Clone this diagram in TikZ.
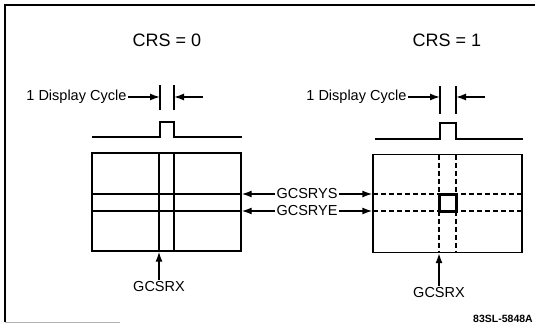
\documentclass[tikz,border=0pt]{standalone}
\usepackage{fontspec}
\setmainfont{Liberation Sans}
\usetikzlibrary{arrows.meta}
\tikzset{
  lbl/.style={font=\fontsize{14.5}{17}\selectfont, inner sep=1pt},
  ttl/.style={font=\fontsize{18}{21}\selectfont, inner sep=1pt},
  scrn/.style={draw, line width=1.4pt, minimum width=149pt, minimum height=98pt, inner sep=0pt},
  ptr/.style={-{Latex[length=10pt,width=7pt]}, line width=1.4pt},
  griddash/.style={line width=1.2pt, dash pattern=on 5pt off 3pt}
}

\begin{document}
\begin{tikzpicture}[x=1pt, y=-1pt, line width=1.3pt]
  \useasboundingbox (0,0) rectangle (535,324);
  % frame
  \draw (5,322) -- (5,5) -- (535,5);
  \draw[black!30, line width=0.8pt] (5,322) -- (120,322);

  % CRS = 0
  \node[ttl] (crs0) at (167,40) {CRS = 0};
  \node[lbl, anchor=east] (cyc0) at (128,97) {1 Display Cycle};
  \draw (160,85) -- (160,110);
  \draw (174,85) -- (174,110);
  \coordinate (tk0l) at (160,97);
  \coordinate (tk0r) at (174,97);
  \coordinate (in0) at (203,97);
  \draw[ptr] (cyc0.east) -- (tk0l);
  \draw[ptr] (in0) -- (tk0r);
  \draw (92,137) -| (160,122) -| (174,137) -- (242,137);
  \node[scrn] (scr0) at (166.5,202) {};
  \foreach \x in {159,174} \draw (\x,153) -- (\x,251);
  \foreach \y in {194,211} \draw (92,\y) -- (241,\y);
  \node[lbl] (rx0) at (159,287) {GCSRX};
  \draw[ptr] (rx0.north) -- (rx0.north |- scr0.south);

  % CRS = 1
  \node[ttl] (crs1) at (447,40) {CRS = 1};
  \node[lbl, anchor=east] (cyc1) at (408,97) {1 Display Cycle};
  \draw (440,86) -- (440,114);
  \draw (456,86) -- (456,114);
  \coordinate (tk1l) at (440,97);
  \coordinate (tk1r) at (456,97);
  \coordinate (in1) at (485,97);
  \draw[ptr] (cyc1.east) -- (tk1l);
  \draw[ptr] (in1) -- (tk1r);
  \draw (375,139) -| (440,123) -| (456,139) -- (523,139);
  \node[scrn] (scr1) at (447.5,203.5) {};
  \foreach \x in {439,456} \draw[griddash] (\x,154.5) -- (\x,252.5);
  \foreach \y in {194,211} \draw[griddash] (373,\y) -- (522,\y);
  \draw[line width=3pt] (439,194) rectangle (456,211);
  \node[lbl] (rx1) at (439,293) {GCSRX};
  \draw[ptr] (rx1.north) -- (rx1.north |- scr1.south);

  % row pointers
  \node[lbl] (ys) at (307,194) {GCSRYS};
  \node[lbl] (ye) at (307,211) {GCSRYE};
  \draw[ptr] (ys.west) -- (scr0.east |- ys);
  \draw[ptr] (ye.west) -- (scr0.east |- ye);
  \draw[ptr] (ys.east) -- (scr1.west |- ys);
  \draw[ptr] (ye.east) -- (scr1.west |- ye);

  \node[font=\fontsize{10.5}{12}\selectfont\bfseries] (tag) at (503,319) {83SL-5848A};
\end{tikzpicture}
\end{document}
